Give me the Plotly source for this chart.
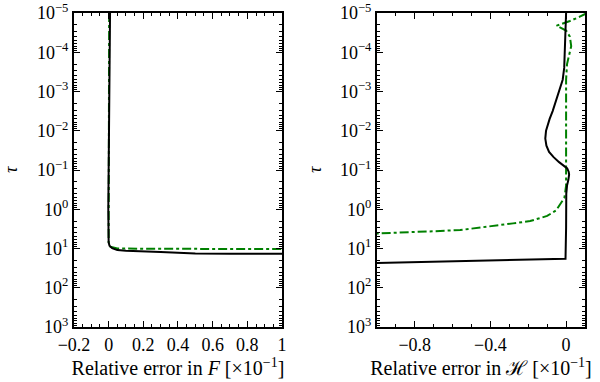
import plotly.graph_objects as go

# left panel: relative error in F
tau_F_solid = [1e-5, 1e-3, 0.1, 1.0, 7.0, 8.5, 9.8, 11.0, 11.5, 12.3, 13.5, 13.7, 13.7]
err_F_solid = [0.008, 0.006, 0.0, -0.002, 0.0, 0.005, 0.02, 0.05, 0.1, 0.3, 0.5, 0.7, 1.05]
tau_F_dash = [1e-5, 1e-2, 1.0, 7.0, 9.0, 10.0, 10.2, 10.3]
err_F_dash = [0.003, 0.002, 0.0, 0.0, 0.01, 0.05, 0.3, 1.05]

# right panel: relative error in H
tau_H_solid = [1e-5, 1e-4, 2.5e-4, 5e-4, 1e-3, 1.78e-3, 3.16e-3, 5e-3, 7.1e-3, 1e-2,
               1.58e-2, 2.4e-2, 3.47e-2, 4.7e-2, 6.3e-2, 7.9e-2, 9.1e-2, 0.112, 0.132,
               0.178, 0.25, 0.4, 1.0, 3.0, 18.2, 23.9]
err_H_solid = [0.0, -0.005, -0.01, -0.018, -0.037, -0.053, -0.071, -0.087, -0.098, -0.106,
               -0.11, -0.104, -0.09, -0.066, -0.037, -0.01, 0.006, 0.014, 0.016,
               0.012, 0.005, 0.001, 0.002, 0.0, -0.003, -1.05]
tau_H_dash = [1e-5, 1.26e-5, 1.6e-5, 2.1e-5, 2.8e-5, 4e-5, 7e-5, 1.26e-4, 2e-4, 5e-4,
              0.1, 0.25, 0.51, 1.07, 1.48, 2.0, 2.29, 2.75, 3.39, 3.63, 4.0, 4.07, 4.2, 4.25]
err_H_dash = [0.11, 0.07, 0.02, -0.05, 0.0, 0.02, 0.027, 0.015, 0.005, 0.0,
              0.0, 0.0, -0.009, -0.053, -0.1, -0.19, -0.28, -0.42, -0.56, -0.7, -0.86, -0.93, -1.0, -1.05]

ytick_vals = [10.0 ** k for k in range(-5, 4)]
ytick_text = ['10<sup>%s</sup>' % (str(k).replace('-', '−')) for k in range(-5, 4)]
ytick_minor = [m * 10.0 ** k for k in range(-5, 3) for m in range(2, 10)]

FONT = 'Liberation Serif, DejaVu Serif, serif'
fig = go.Figure()

fig.add_trace(go.Scatter(x=err_F_dash, y=tau_F_dash, mode='lines',
                         line=dict(color='#008000', width=2, dash='dashdot'),
                         xaxis='x', yaxis='y', showlegend=False))
fig.add_trace(go.Scatter(x=err_F_solid, y=tau_F_solid, mode='lines',
                         line=dict(color='black', width=2),
                         xaxis='x', yaxis='y', showlegend=False))
fig.add_trace(go.Scatter(x=err_H_dash, y=tau_H_dash, mode='lines',
                         line=dict(color='#008000', width=2, dash='dashdot'),
                         xaxis='x2', yaxis='y2', showlegend=False))
fig.add_trace(go.Scatter(x=err_H_solid, y=tau_H_solid, mode='lines',
                         line=dict(color='black', width=2),
                         xaxis='x2', yaxis='y2', showlegend=False))

common_axis = dict(showline=True, linecolor='black', linewidth=2, mirror='allticks',
                   ticks='inside', ticklen=6, tickwidth=1, tickcolor='black',
                   showgrid=False, zeroline=False, automargin=False,
                   ticklabeloverflow='allow',
                   tickfont=dict(family=FONT, size=18, color='black'))

yaxis_common = dict(common_axis, type='log', range=[3.0005, -5.0005], tickmode='array',
                    tickvals=ytick_vals, ticktext=ytick_text,
                    minor=dict(ticks='inside', ticklen=3, tickcolor='black',
                               tickmode='array', tickvals=ytick_minor, showgrid=False))

xtitle_font = dict(family=FONT, size=20, color='black')

fig.update_layout(
    width=600, height=382,
    margin=dict(l=0, r=0, t=13, b=55),
    plot_bgcolor='white', paper_bgcolor='white',
    font=dict(family=FONT, color='black'),
    xaxis=dict(common_axis, domain=[0.1233, 0.47], range=[-0.2, 1.0],
               tickmode='array', tickvals=[-0.2, 0, 0.2, 0.4, 0.6, 0.8, 1.0],
               ticktext=['−0.2', '0', '0.2', '0.4', '0.6', '0.8', '1'],
               minor=dict(ticks='inside', ticklen=3, tickcolor='black', dtick=0.05, showgrid=False),
               title=dict(text='Relative error in <i>F</i> [×10<sup>−1</sup>]',
                          font=xtitle_font, standoff=4),
               anchor='y'),
    yaxis=dict(yaxis_common, domain=[0, 1], anchor='x'),
    xaxis2=dict(common_axis, domain=[0.6283, 0.975], range=[-1.0, 0.1],
                tickmode='array', tickvals=[-0.8, -0.4, 0],
                ticktext=['−0.8', '−0.4', '0'],
                minor=dict(ticks='inside', ticklen=3, tickcolor='black', dtick=0.1,
                           tick0=0, showgrid=False),
                title=dict(text='Relative error in ℋ [×10<sup>−1</sup>]',
                           font=xtitle_font, standoff=4),
                anchor='y2'),
    yaxis2=dict(yaxis_common, domain=[0, 1], anchor='x2'),
    annotations=[
        dict(text='<i>τ</i>', x=11 / 600, y=0.5, xref='paper', yref='paper',
             xanchor='center', yanchor='middle',
             showarrow=False, textangle=-90, font=dict(family=FONT, size=18, color='black')),
        dict(text='<i>τ</i>', x=315 / 600, y=0.5, xref='paper', yref='paper',
             xanchor='center', yanchor='middle',
             showarrow=False, textangle=-90, font=dict(family=FONT, size=18, color='black')),
    ],
)

fig.write_html('out.html', config={'displayModeBar': False},
               post_script="document.body.style.margin='0';")
